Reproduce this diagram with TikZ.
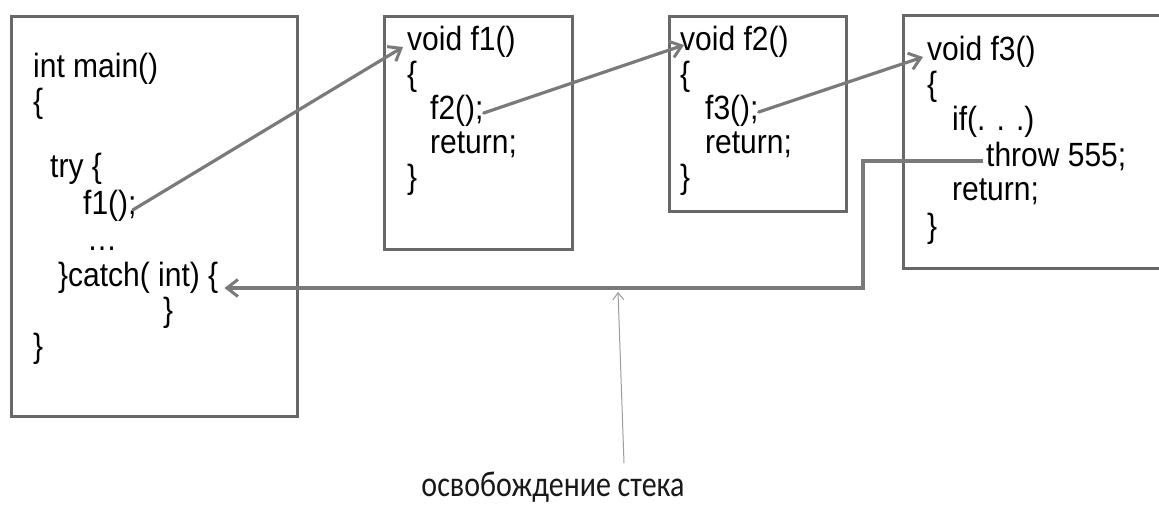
\documentclass[tikz,border=0pt]{standalone}
\usepackage{fontspec}
\setmainfont{Liberation Sans}
\newfontfamily\lblfont{Carlito}
\usetikzlibrary{arrows.meta}
\definecolor{boxgray}{HTML}{686868}
\definecolor{arrgray}{HTML}{7A7A7A}
\definecolor{thingray}{HTML}{9C9C9C}
\newcommand\codetxt[1]{\scalebox{1}[1.12]{#1}}
\newcommand\notetxt[1]{\scalebox{1}[1.2]{#1}}
\begin{document}
\begin{tikzpicture}[x=1pt,y=-1pt,
  code/.style={font=\fontsize{30}{34}\selectfont, inner sep=0pt, anchor=base west, text=black},
  frame/.style={draw=boxgray, line width=3pt},
  callarrow/.style={draw=arrgray, line width=3.2pt, line cap=round,
    -{Straight Barb[length=11pt,width=17pt,line width=3pt]}},
  retarrow/.style={draw=arrgray, line width=3.2pt,
    -{Straight Barb[length=11pt,width=17pt,line width=3pt]}},
  notearrow/.style={draw=thingray, line width=1pt,
    -{Straight Barb[length=7pt,width=11pt,line width=1pt]}},
  lbl/.style={font=\lblfont\fontsize{30}{34}\selectfont, inner sep=0pt, anchor=base, text=black!90}
]
\useasboundingbox (0,0) rectangle (1159,504);

% frames
\node[frame, anchor=north west, inner sep=0pt, minimum width=286pt, minimum height=400pt] (mainbox) at (10,15) {};
\node[frame, anchor=north west, inner sep=0pt, minimum width=188pt, minimum height=233pt] (f1box) at (383,15) {};
\node[frame, anchor=north west, inner sep=0pt, minimum width=177pt, minimum height=195pt] (f2box) at (668,15) {};
\draw[frame] (1162,15) -- (903,15) -- (903,268) -- (1162,268);

% main
\node[code] (m1) at (33,77) {\codetxt{int main()}};
\node[code] (m2) at (33,112) {\codetxt{\{}};
\node[code] (m3) at (50,177) {\codetxt{try \{}};
\node[code] (m4) at (83,214) {\codetxt{f1();}};
\node[code] (m5) at (87,250) {\codetxt{…}};
\node[code] (m6) at (58,286) {\codetxt{\}catch( int) \{}};
\node[code] (m7) at (163,321) {\codetxt{\}}};
\node[code] (m8) at (33,357) {\codetxt{\}}};

% f1
\node[code] (a1) at (407,50) {\codetxt{void f1()}};
\node[code] (a2) at (407,85) {\codetxt{\{}};
\node[code] (a3) at (430,119) {\codetxt{f2();}};
\node[code] (a4) at (430,153) {\codetxt{return;}};
\node[code] (a5) at (407,188) {\codetxt{\}}};

% f2
\node[code] (b1) at (680,50) {\codetxt{void f2()}};
\node[code] (b2) at (680,85) {\codetxt{\{}};
\node[code] (b3) at (705,119) {\codetxt{f3();}};
\node[code] (b4) at (705,153) {\codetxt{return;}};
\node[code] (b5) at (680,188) {\codetxt{\}}};

% f3
\node[code] (c1) at (927,60) {\codetxt{void f3()}};
\node[code] (c2) at (927,95) {\codetxt{\{}};
\node[code] (c3) at (952,130) {\codetxt{if(. . .)}};
\node[code] (c4) at (986,166) {\codetxt{throw 555;}};
\node[code] (c5) at (952,200) {\codetxt{return;}};
\node[code] (c6) at (927,237) {\codetxt{\}}};

% calls
\draw[callarrow] ([xshift=-4pt,yshift=4pt]m4.base east) -- ([xshift=-4pt,yshift=3pt]a1.base west);
\draw[callarrow] ([xshift=0pt,yshift=6pt]a3.base east) -- ([xshift=4pt,yshift=5pt]b1.base west);
\draw[callarrow] ([xshift=0pt,yshift=7pt]b3.base east) -- ([xshift=-4pt,yshift=3pt]c1.base west);

% throw -> catch
\coordinate (bend) at (863,288);
\draw[retarrow] ([xshift=-3pt,yshift=5pt]c4.base west) -| (bend) -- ([xshift=6pt,yshift=-2pt]m6.base east);

% note
\node[lbl] (note) at (553,496) {\notetxt{освобождение стека}};
\coordinate (notefoot) at (624,463);
\coordinate (notetip) at (618,292);
\draw[notearrow] (notefoot) -- (notetip);
\end{tikzpicture}
\end{document}
